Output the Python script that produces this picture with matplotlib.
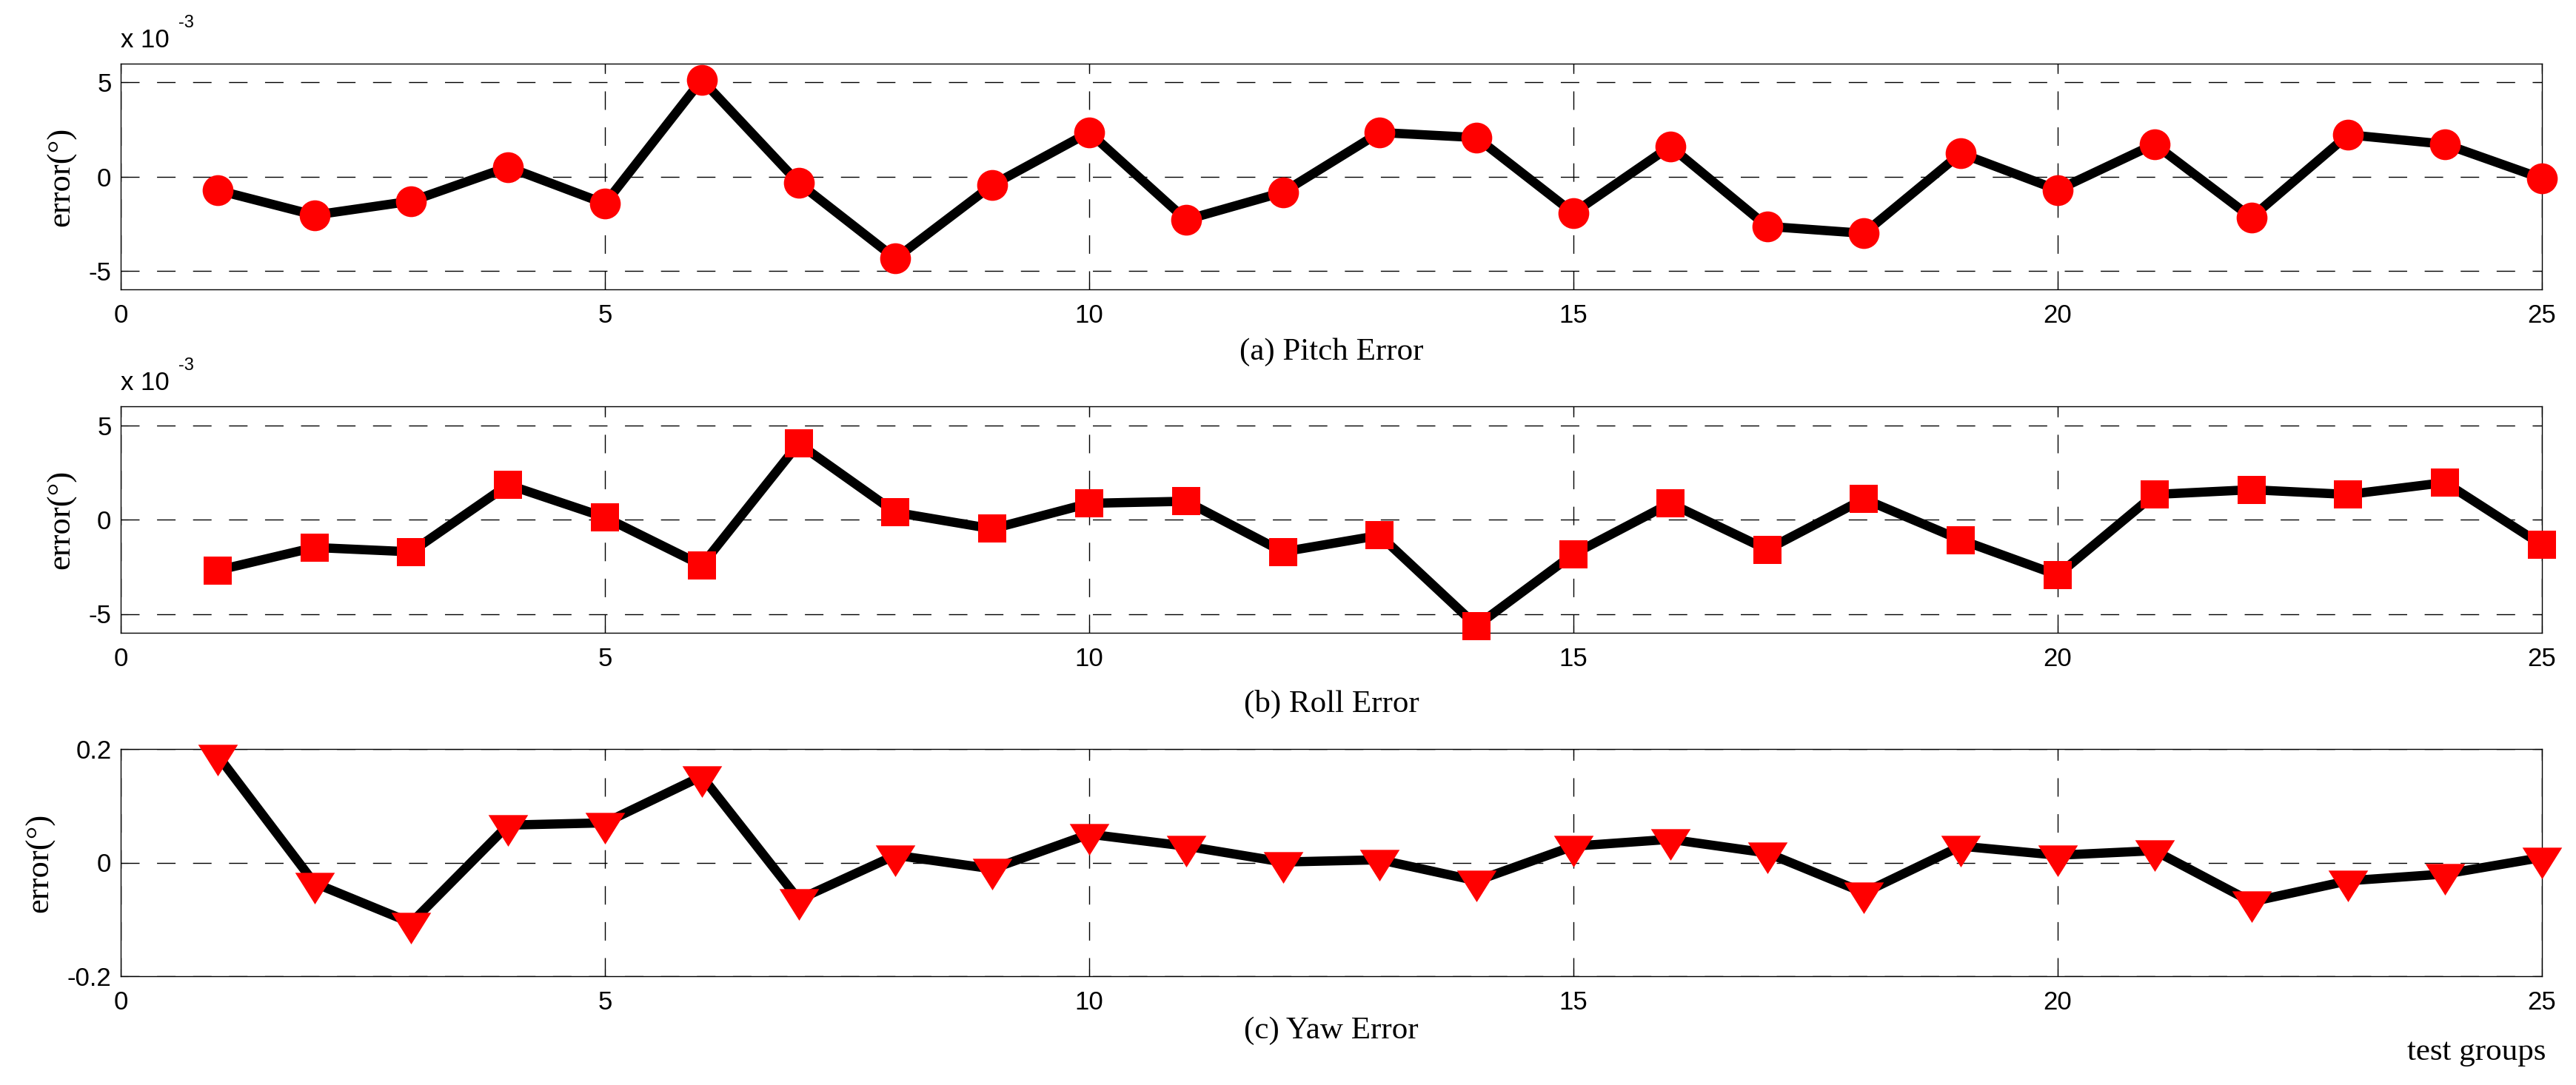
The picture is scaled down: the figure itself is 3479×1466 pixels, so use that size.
import numpy as np
import matplotlib.pyplot as plt

plt.rcParams['font.family'] = ['Liberation Sans', 'DejaVu Sans']

# test group index
groups = np.arange(1, 26)

# pitch and roll errors, in units of 1e-3 degree
pitch = [-0.73, -2.05, -1.31, 0.50, -1.44, 5.14, -0.34, -4.36, -0.45, 2.35,
         -2.30, -0.84, 2.34, 2.07, -1.94, 1.60, -2.65, -3.02, 1.23, -0.71,
         1.72, -2.18, 2.22, 1.72, -0.10]
roll = [-2.69, -1.48, -1.71, 1.84, 0.12, -2.42, 4.02, 0.38, -0.49, 0.86,
        0.97, -1.71, -0.84, -5.63, -1.83, 0.86, -1.59, 1.09, -1.08, -2.94,
        1.33, 1.58, 1.33, 1.96, -1.34]
# yaw error, in degree
yaw = [0.189, -0.036, -0.106, 0.066, 0.070, 0.152, -0.065, 0.013, -0.011, 0.050,
       0.029, 0.001, 0.005, -0.032, 0.029, 0.041, 0.017, -0.053, 0.029, 0.013,
       0.021, -0.069, -0.032, -0.020, 0.009]

captions = ['(a) Pitch Error', '(b) Roll Error', '(c) Yaw Error']
yticks = [[-5, 0, 5], [-5, 0, 5], [-0.2, 0, 0.2]]
ytick_labels = [['-5', '0', '5'], ['-5', '0', '5'], ['-0.2', '0', '0.2']]
ylims = [(-6, 6), (-6, 6), (-0.2, 0.2)]

# down triangle with its centroid on the data point (like the original)
tri = [(-27, 14.3), (27, 14.3), (0, -28.7), (-27, 14.3)]
markers = ['o', 's', tri]
msizes = [30, 27, 41]

series = [pitch, roll, yaw]

fig = plt.figure(figsize=(34.8, 14.66), dpi=100)

W, H = 3480.0, 1466.0
left, right = 163, 3433
tops = [86, 549, 1012]
bottoms = [391, 855, 1319]
cap_off = [95, 107, 84]   # caption baseline distance below the axes, px

dash = (0, (18, 17))

for i in range(3):
    ax = fig.add_axes([left / W, 1 - bottoms[i] / H,
                       (right - left) / W, (bottoms[i] - tops[i]) / H])
    ax.plot(groups, series[i], color='black', lw=9, marker=markers[i],
            ms=msizes[i], mfc='red', mec='red', mew=0, zorder=3,
            clip_on=False)

    ax.set_xlim(0, 25)
    ax.set_ylim(*ylims[i])
    ax.set_xticks([0, 5, 10, 15, 20, 25])
    ax.set_yticks(yticks[i])
    ax.set_yticklabels(ytick_labels[i])
    ax.tick_params(direction='in', length=7, width=0.8, labelsize=25,
                   top=True, right=True)
    ax.tick_params(axis='x', pad=14)
    ax.tick_params(axis='y', pad=9)
    for sp in ax.spines.values():
        sp.set_linewidth(1.0)
    ax.grid(True, color='black', lw=1.0, linestyle=dash)

    ax.set_ylabel('error(°)', fontfamily='Liberation Serif', fontsize=32,
                  labelpad=12)
    ax.set_xlabel(captions[i], fontfamily='Liberation Serif', fontsize=31)
    ax.xaxis.set_label_coords(0.5, -cap_off[i] / (bottoms[i] - tops[i]))
    ax.xaxis.label.set_va('baseline')

    if i < 2:
        ax.annotate('x 10', xy=(0, 1), xycoords='axes fraction',
                    xytext=(0, 22), textcoords='offset pixels',
                    ha='left', va='baseline', fontsize=25)
        ax.annotate('-3', xy=(0, 1), xycoords='axes fraction',
                    xytext=(78, 49), textcoords='offset pixels',
                    ha='left', va='baseline', fontsize=17)
    else:
        ax.annotate('test groups', xy=(1, 0), xycoords='axes fraction',
                    xytext=(5, -113), textcoords='offset pixels',
                    ha='right', va='baseline', fontsize=31,
                    fontfamily='Liberation Serif')

fig.savefig('out.png', dpi=100)
